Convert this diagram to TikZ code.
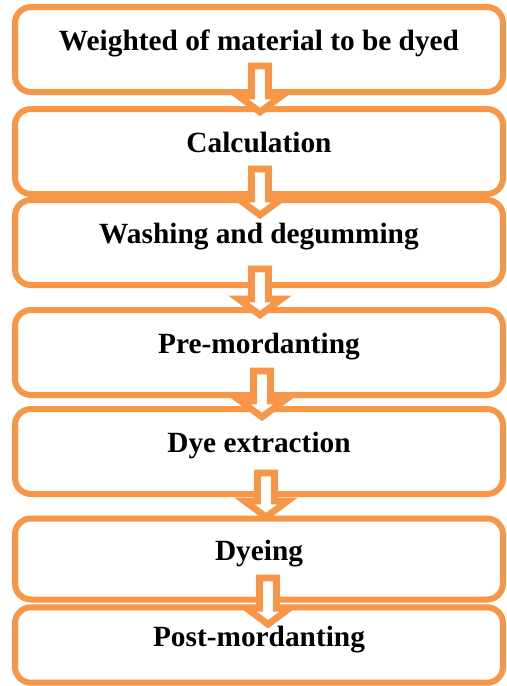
\documentclass[tikz,border=0pt]{standalone}
\usepackage{fontspec}
\setmainfont{Liberation Serif}
\definecolor{stageorange}{HTML}{F79646}

% hollow block arrow from box #1 down into box #2
% #3 x offset, #4 tail above #1.south, #5 tip below #2.north
\newcommand{\flowarrow}[5]{%
  \draw[flow] ([shift={(#3-8.5,-#4)}]#1.south)
    |- ([shift={(#3-21.5,#5-16)}]#2.north)
    -- ([shift={(#3,#5)}]#2.north)
    -- ([shift={(#3+21.5,#5-16)}]#2.north)
    -| ([shift={(#3+8.5,-#4)}]#1.south) -- cycle;}

\begin{document}
\begin{tikzpicture}[x=0.75pt,y=-0.75pt]
  \tikzstyle{stage}=[draw=stageorange, fill=white, line width=4.5pt,
    rounded corners=12pt, minimum width=366pt, minimum height=63.75pt,
    font=\fontsize{22}{26}\selectfont\bfseries,
    text height=0.7em, text depth=0.53em]
  \tikzstyle{flow}=[draw=stageorange, fill=white, line width=5pt,
    line join=miter]
  \useasboundingbox (0,0) rectangle (507,686);

  \node[stage] (weigh) at (259,49.5) {Weighted of material to be dyed};
  \node[stage] (calc) at (259,151.5) {Calculation};
  \node[stage] (wash) at (259,242.5) {Washing and degumming};
  \node[stage] (premord) at (259,352.5) {Pre-mordanting};
  \node[stage] (extract) at (259,451.5) {Dye extraction};
  \node[stage, minimum height=60.75pt] (dyeing) at (259,559) {Dyeing};
  \node[stage, minimum height=56.6pt] (postmord) at (259,645) {Post-mordanting};

  \flowarrow{weigh}{calc}{1}{29}{6}
  \flowarrow{calc}{wash}{1}{28}{18}
  \flowarrow{wash}{premord}{1}{19}{8}
  \flowarrow{premord}{extract}{3}{27}{11}
  \flowarrow{extract}{dyeing}{7}{24}{1.5}
  \flowarrow{dyeing}{postmord}{9}{24.5}{20}
\end{tikzpicture}
\end{document}
